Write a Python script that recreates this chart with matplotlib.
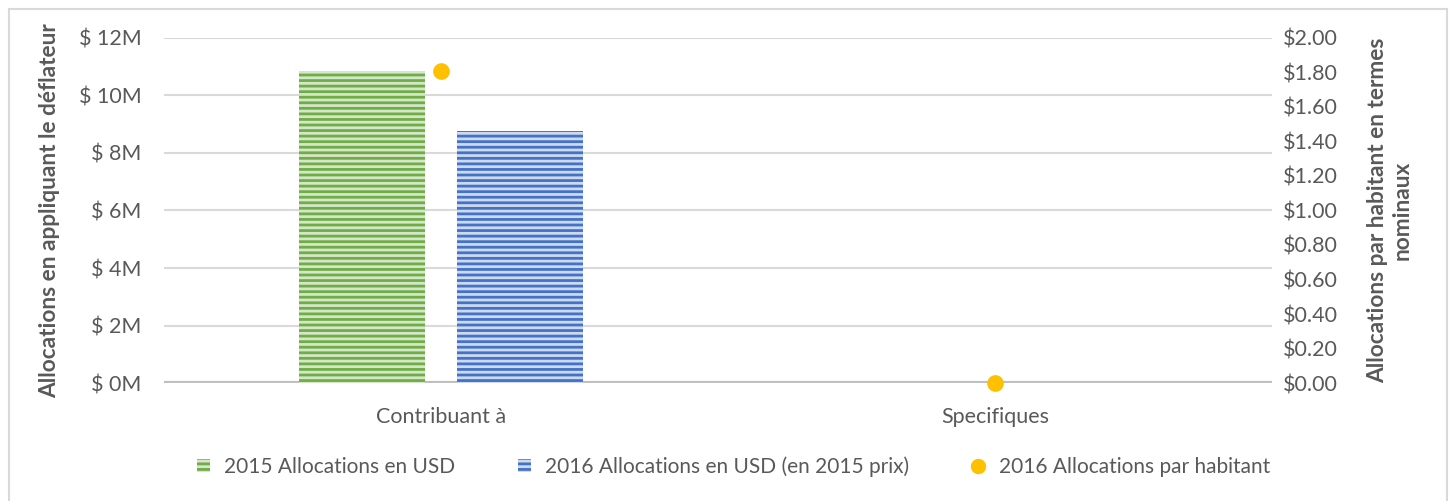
import numpy as np
import matplotlib
matplotlib.use('Agg')
import matplotlib.pyplot as plt
from matplotlib.patches import Rectangle, Patch
from matplotlib.lines import Line2D

# data
categories = ['Contribuant à', 'Specifiques']
alloc_2015 = [10.85, 0.0]      # millions USD
alloc_2016 = [8.77, 0.0]       # millions USD (2015 prices)
per_capita_2016 = [1.81, 0.0]  # USD per inhabitant

left_ticks = [0, 2, 4, 6, 8, 10, 12]
right_ticks = [0.0, 0.2, 0.4, 0.6, 0.8, 1.0, 1.2, 1.4, 1.6, 1.8, 2.0]

green = '#70ad47'
green_light = '#d5e7c9'
blue = '#4472c4'
blue_light = '#cdd9ef'
gold = '#ffc000'
txt = '#595959'
fs = 15.5

plt.rcParams['font.family'] = ['Lato', 'DejaVu Sans']
plt.rcParams['hatch.linewidth'] = 2.0

fig = plt.figure(figsize=(14.5, 5.01), dpi=100)
ax = fig.add_axes([164 / 1450, 0.2355, 1108 / 1450, 0.6887])
ax2 = ax.twinx()

x = np.arange(len(categories))
w = 0.227
off = 0.142

ax.bar(x - off, alloc_2015, w, facecolor=green_light, edgecolor=green,
       hatch='---', linewidth=0, zorder=2)
ax.bar(x + off, alloc_2016, w, facecolor=blue_light, edgecolor=blue,
       hatch='---', linewidth=0, zorder=2)
ax2.plot(x, per_capita_2016, linestyle='none', marker='o', markersize=11,
         color=gold, zorder=3, clip_on=False)

ax.set_xlim(-0.5, 1.5)
ax.set_ylim(0, 12)
ax2.set_ylim(0, 2)
ax.set_yticks(left_ticks)
ax.set_yticklabels(['$ {}M'.format(v) for v in left_ticks])
ax2.set_yticks(right_ticks)
ax2.set_yticklabels(['${:.2f}'.format(v) for v in right_ticks])
ax.set_xticks(x)
ax.set_xticklabels(categories)

ax.grid(axis='y', color='#d9d9d9', linewidth=1.5, zorder=0)
ax.set_axisbelow(True)
ax.axhline(0, color='#bfbfbf', linewidth=3, zorder=1)

for a in (ax, ax2):
    for s in a.spines.values():
        s.set_visible(False)
    a.tick_params(length=0, labelsize=fs, labelcolor=txt)
ax.tick_params(axis='y', pad=16)
ax.tick_params(axis='x', pad=17)
ax2.tick_params(axis='y', pad=8)

ax.set_ylabel('Allocations en appliquant le déflateur', fontsize=16.3,
              fontweight='bold', color=txt)
ax.yaxis.set_label_coords(-0.0939, 0.5)
ax2.set_ylabel('Allocations par habitant en termes\nnominaux', fontsize=16.3,
               fontweight='bold', color=txt, rotation=90,
               va='center', ha='center', linespacing=1.2)
ax2.yaxis.set_label_coords(1.1065, 0.5)

handles = [
    Patch(facecolor=green_light, edgecolor=green, hatch='---', linewidth=0),
    Patch(facecolor=blue_light, edgecolor=blue, hatch='---', linewidth=0),
    Line2D([], [], linestyle='none', marker='o', markersize=10, color=gold),
]
labels = ['2015 Allocations en USD', '2016 Allocations en USD (en 2015 prix)',
          '2016 Allocations par habitant']
leg = fig.legend(handles, labels, loc='center', bbox_to_anchor=(0.506, 0.068),
                 ncol=3, frameon=False, fontsize=15, handlelength=0.6,
                 handleheight=0.6, handletextpad=0.7, columnspacing=3.0)
for t in leg.get_texts():
    t.set_color(txt)

# light chart border
fig.patches.append(Rectangle((9 / 1450, -0.05), 1438 / 1450, 1 - 9 / 501 + 0.05,
                             transform=fig.transFigure, fill=False,
                             edgecolor='#d9d9d9', linewidth=1.5))

fig.savefig('out.png', dpi=100)
